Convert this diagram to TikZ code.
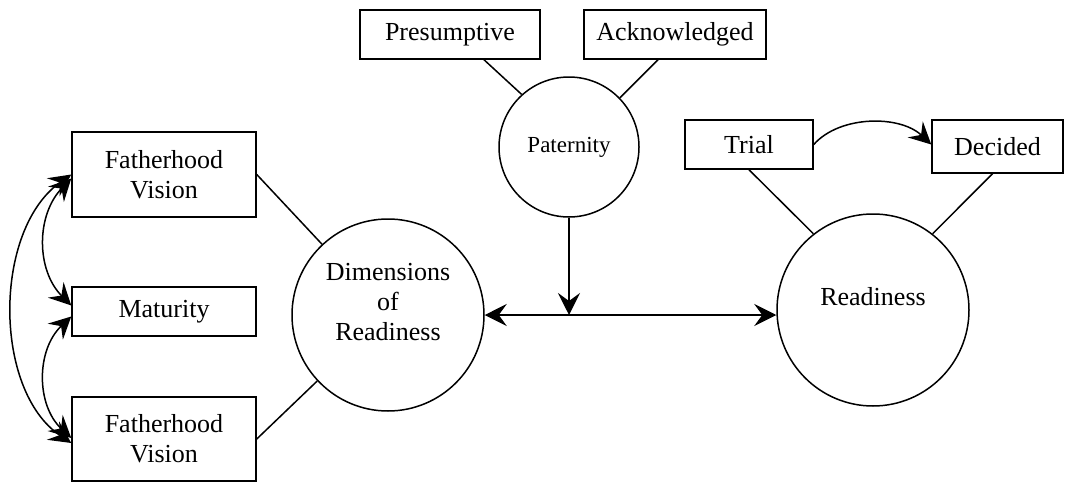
\documentclass[tikz,border=0pt]{standalone}
\usepackage{fontspec}
\setmainfont{Liberation Serif}
\usetikzlibrary{arrows.meta}
\begin{document}
\begin{tikzpicture}[x=1pt,y=-1pt,line width=1.5pt,
  box/.style={draw,rectangle,inner sep=0pt,align=center,font=\fontsize{26}{30}\selectfont},
  circ/.style={draw,circle,inner sep=0pt},
  txt/.style={align=center,inner sep=0pt,font=\fontsize{26}{30}\selectfont},
  tipend/.style={-{Stealth[length=22pt,width=22pt,inset=8pt]}},
  tipboth/.style={{Stealth[length=22pt,width=22pt,inset=8pt]}-{Stealth[length=22pt,width=22pt,inset=8pt]}}]
\useasboundingbox (0,0) rectangle (1071,482);
% left boxes
\node[box,minimum width=184pt,minimum height=85pt] (fv1) at (164,174.5) {Fatherhood\\Vision};
\node[box,minimum width=184pt,minimum height=49pt] (mat) at (164,311.5) {Maturity};
\node[box,minimum width=184pt,minimum height=84pt] (fv2) at (164,439) {Fatherhood\\Vision};
% top boxes
\node[box,minimum width=180pt,minimum height=49pt] (pres) at (450,34.5) {Presumptive};
\node[box,minimum width=182pt,minimum height=49pt] (ack) at (675,34.5) {Acknowledged};
\node[box,minimum width=128pt,minimum height=49pt] (trial) at (749,144.5) {Trial};
\node[box,minimum width=131pt,minimum height=53pt] (dec) at (997.5,146.5) {Decided};
% circles
\node[circ,minimum size=140pt,font=\fontsize{23}{27}\selectfont] (pat) at (569,147) {Paternity};
\node[circ,minimum size=192pt] (dim) at (388,315) {};
\node[txt] (dimtxt) at (388,302) {Dimensions\\of\\Readiness};
\node[circ,minimum size=192pt] (read) at (873,310) {};
\node[txt] (readtxt) at (873,297) {Readiness};
% lines
\draw (fv1.east) -- (dim.133);
\draw (fv2.east) -- (dim.223);
\draw ([xshift=34pt]pres.south) -- (pat.132);
\draw ([xshift=-17pt]ack.south) -- (pat.44);
\draw (trial.south) -- (read.128);
\draw ([xshift=-5pt]dec.south) -- (read.52);
% arrows
\draw[tipboth] (dim.east) -- (dim.east -| read.west);
\coordinate (meet) at (pat.south |- dim.east);
\draw[tipend] (pat.south) -- (meet);
\draw[tipend] (trial.east) .. controls (840,115) and (900,115) .. ([yshift=2pt]dec.west);
\draw[tipboth] (fv1.west) .. controls (-7,230) and (-7,390) .. ([yshift=-4pt]fv2.west);
\draw[tipboth] ([yshift=-4pt]fv1.west) .. controls (36,215) and (36,270) .. ([yshift=6pt]mat.west);
\draw[tipboth] ([yshift=-5pt]mat.west) .. controls (36,350) and (36,405) .. ([yshift=1pt]fv2.west);
\end{tikzpicture}
\end{document}
